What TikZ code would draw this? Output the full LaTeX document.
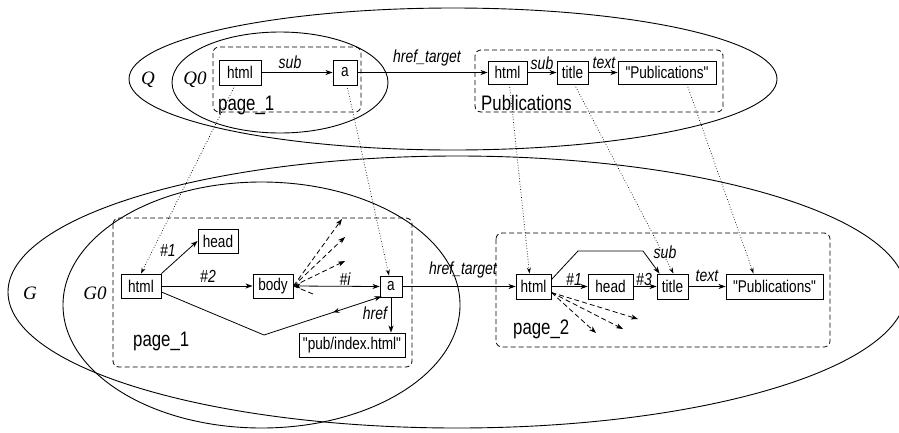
\documentclass[tikz,border=0pt]{standalone}
\usepackage{fontspec}
\newfontfamily\nar{Liberation Sans}[FakeStretch=0.8]
\newfontfamily\tms{Liberation Serif}
\usetikzlibrary{arrows.meta,decorations.markings}
\begin{document}
\begin{tikzpicture}[x=1pt,y=-1pt,
 box/.style={draw,fill=white,line width=0.9pt,inner sep=0pt,font=\nar\fontsize{17}{19}\selectfont},
 elab/.style={inner sep=0pt,font=\nar\itshape\fontsize{17.5}{20}\selectfont},
 plab/.style={inner sep=0pt,anchor=base west,font=\nar\fontsize{21}{24}\selectfont},
 glab/.style={inner sep=0pt,font=\tms\itshape\fontsize{19}{22}\selectfont},
 oval/.style={line width=0.9pt},
 pagebox/.style={dash pattern=on 5pt off 3pt, rounded corners=6pt, line width=0.8pt},
 edge/.style={line width=0.8pt,-{Stealth[length=7pt,width=5pt,inset=2pt]}},
 dedge/.style={edge,dash pattern=on 5pt off 3pt},
 dline/.style={line width=0.8pt,dash pattern=on 5pt off 3pt},
 dotarrow/.style={dotted,line width=0.7pt,-{Stealth[length=6pt,width=4pt,inset=2pt]}}
]
\useasboundingbox (0,0) rectangle (899,432);

% ellipses
\draw[oval] (453,79) ellipse [x radius=324pt, y radius=71pt];
\draw[oval] (280,82.5) ellipse [x radius=108pt, y radius=50.5pt];
\draw[oval] (457,292) ellipse [x radius=449pt, y radius=136pt];
\draw[oval] (261.5,305) ellipse [x radius=198.5pt, y radius=123pt];

\node[glab] (lQ) at (148,80) {Q};
\node[glab] (lQ0) at (195,80) {Q0};
\node[glab] (lG) at (30,293) {G};
\node[glab] (lG0) at (95,293) {G0};

% page boxes
\draw[pagebox] (213,47) rectangle (361,112);
\draw[pagebox] (475,50) rectangle (723,112);
\draw[pagebox] (113,218) rectangle (412,367);
\draw[pagebox] (496,233) rectangle (830,347);

\node[plab] (lp1) at (218,110) {page\_1};
\node[plab] (lpub) at (481,110) {Publications};
\node[plab] (lp1b) at (133,346) {page\_1};
\node[plab] (lp2) at (513,334) {page\_2};

% top nodes
\node[box,minimum width=42pt,minimum height=25pt] (q_html) at (240,72.5) {html};
\node[box,minimum width=24pt,minimum height=25pt] (q_a) at (345,72.5) {a};
\node[box,minimum width=39pt,minimum height=23pt] (p_html) at (507.5,72.5) {html};
\node[box,minimum width=31pt,minimum height=23pt] (p_title) at (572.5,72.5) {title};
\node[box,minimum width=98pt,minimum height=23pt] (p_pub) at (667,72.5) {"Publications"};

\draw[edge] (q_html) -- (q_a);
\draw[edge] (q_a) -- (p_html);
\draw[edge] (p_html) -- (p_title);
\draw[edge] (p_title) -- (p_pub);
\node[elab] (l_sub1) at (290,62) {sub};
\node[elab] (l_ht1) at (427,58) {href\_target};
\node[elab] (l_sub2) at (542,63) {sub};
\node[elab] (l_text1) at (604,63) {text};

% bottom page_1 nodes
\node[box,minimum width=40pt,minimum height=24pt] (g_html) at (141,286) {html};
\node[box,minimum width=40pt,minimum height=24pt] (g_head) at (218,241) {head};
\node[box,minimum width=40pt,minimum height=24pt] (g_body) at (273,286) {body};
\node[box,minimum width=22pt,minimum height=21pt] (g_a) at (391,286.5) {a};
\node[box,minimum width=106pt,minimum height=24pt] (g_pub) at (352,345) {"pub/index.html"};

\coordinate (g_v) at (264,335);
\coordinate (b1) at (342,219);
\coordinate (b2) at (345,237);
\coordinate (b3) at (345,261);
\coordinate (b4) at (313,294);

\draw[edge] (g_html.north east) -- (g_head.west);
\draw[edge] (g_html) -- (g_body);
\draw[edge,{Stealth[length=7pt,width=5pt,inset=2pt]}-{Stealth[length=7pt,width=5pt,inset=2pt]}] (g_body.east) -- (g_a.west);
\draw[line width=0.8pt] ([yshift=-6pt]g_html.east) -- (g_v);
\draw[edge] (g_v) -- ([xshift=2pt,yshift=1pt]g_a.south west);
\path[decorate,decoration={markings,mark=at position 0.59 with {\arrowreversed[line width=0.8pt]{Stealth[length=6pt,width=5pt,inset=2pt]}}}] (g_v) -- ([xshift=2pt,yshift=1pt]g_a.south west);
\draw[edge] (g_a.south) -- (g_pub.north -| g_a.south);
\draw[dedge] (g_body.east) -- (b1);
\draw[dedge] (g_body.east) -- (b2);
\draw[dedge] (g_body.east) -- (b3);
\draw[dline] (g_body.east) -- (b4);

\node[elab] (l_h1) at (168,250) {\#1};
\node[elab] (l_h2) at (208,276) {\#2};
\node[elab] (l_hi) at (345,279) {\#i};
\node[elab] (l_href) at (375,313) {href};

% bottom page_2 nodes
\node[box,minimum width=35pt,minimum height=25pt] (h_html) at (533.5,286.5) {html};
\node[box,minimum width=45pt,minimum height=25pt] (h_head) at (610.5,286.5) {head};
\node[box,minimum width=31pt,minimum height=25pt] (h_title) at (672.5,286.5) {title};
\node[box,minimum width=97pt,minimum height=25pt] (h_pub) at (774.5,286.5) {"Publications"};

\coordinate (s1) at (578,251);
\coordinate (s2) at (643,251);
\coordinate (c1) at (638,319);
\coordinate (c2) at (623,329);
\coordinate (c3) at (596,333);

\draw[edge] (g_a) -- (h_html);
\draw[edge] (h_html) -- (h_head);
\draw[edge] (h_head) -- (h_title);
\draw[edge] (h_title) -- (h_pub);
\draw[edge] ([yshift=-6pt]h_html.north east) -- (s1) -- (s2) -- ([xshift=3pt]h_title.north west);
\draw[dedge] ([yshift=-6pt]h_html.east) -- (c1);
\draw[dedge] ([yshift=-6pt]h_html.east) -- (c2);
\draw[dedge] ([yshift=-6pt]h_html.east) -- (c3);

\node[elab] (l_ht2) at (463,270) {href\_target};
\node[elab] (l_k1) at (574,279) {\#1};
\node[elab] (l_k3) at (644,279) {\#3};
\node[elab] (l_text2) at (707,276) {text};
\node[elab] (l_sub3) at (665,252) {sub};

% dotted mapping arrows
\draw[dotarrow] ([xshift=-5pt]q_html.south) -- (g_html.north);
\draw[dotarrow] ([xshift=2pt]q_a.south) -- ([xshift=-2pt]g_a.north);
\draw[dotarrow] ([xshift=2pt]p_html.south) -- ([xshift=-4pt]h_html.north);
\draw[dotarrow] ([xshift=2pt]p_title.south) -- ([xshift=1pt]h_title.north);
\draw[dotarrow] ([xshift=20pt]p_pub.south) -- ([xshift=-21pt]h_pub.north);
\end{tikzpicture}
\end{document}
